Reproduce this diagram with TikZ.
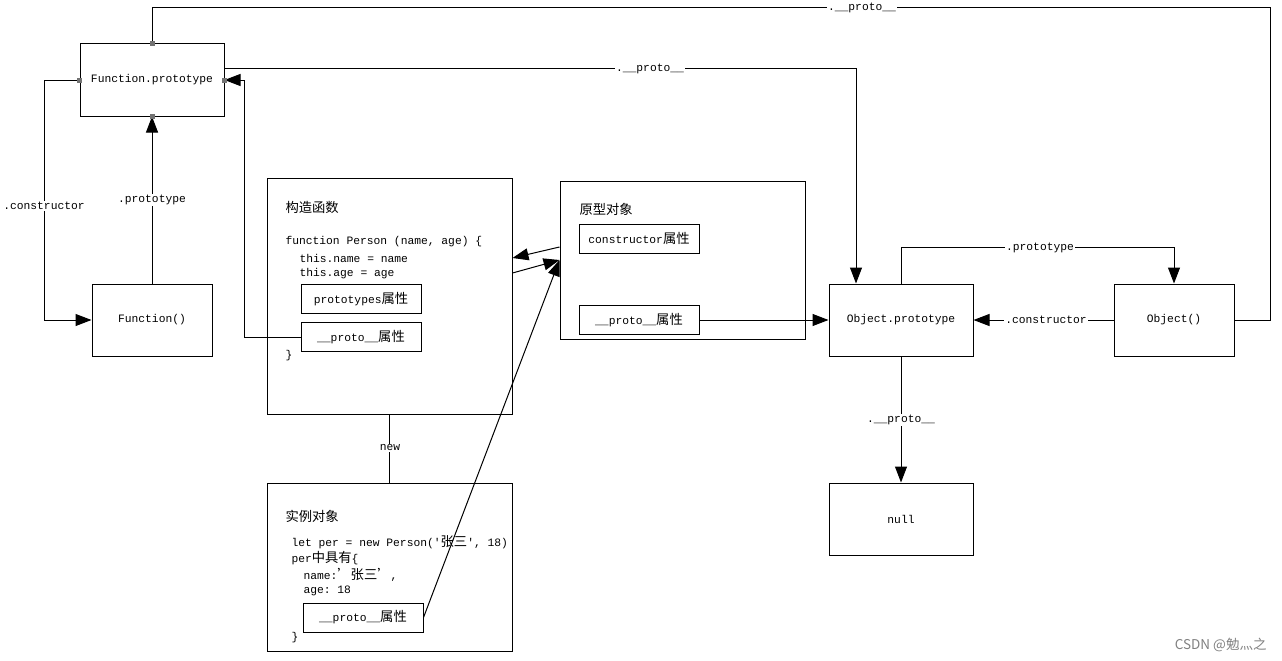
\documentclass[tikz,border=0pt]{standalone}
\usepackage{fontspec}
\setmonofont{Liberation Mono}
\newfontfamily\cjkfont{Noto Sans CJK SC}
\usetikzlibrary{arrows.meta}
\newcommand{\zh}[1]{{\cjkfont\fontsize{13.3}{15}\selectfont #1}}
\newcommand{\codefont}{\ttfamily\fontsize{11.3}{13}\selectfont}
\begin{document}
\begin{tikzpicture}[
	x=1pt, y=-1pt,
	>={Triangle[length=16pt,width=12pt]},
	line width=1pt,
	line join=miter,
	box/.style={draw, minimum width=144pt, minimum height=72pt, font=\codefont},
	attr/.style={draw, minimum width=120pt, minimum height=29pt, inner sep=1pt, font=\codefont},
	txt/.style={anchor=west, inner sep=0pt, font=\codefont},
	lbl/.style={fill=white, inner sep=1pt, font=\codefont},
	dot/.style={fill=gray!90!black, inner sep=0pt, minimum size=5pt}
	]
	\useasboundingbox (0,0) rectangle (1282,661);
	% main boxes
	\node[box] (fp) at (152,80) {Function.prototype};
	\node[box, minimum width=120pt] (fn) at (152,320) {Function()};
	\node[box, minimum width=245pt, minimum height=236pt] (ctor) at (389.5,296) {};
	\node[box, minimum width=245pt, minimum height=158pt] (proto) at (682.5,260) {};
	\node[box, minimum width=245pt, minimum height=168pt] (inst) at (389.5,567) {};
	\node[box] (objp) at (901,320) {Object.prototype};
	\node[box, minimum width=120pt] (obj) at (1174,320) {Object()};
	\node[box] (null) at (901,519) {null};
	% constructor
	\node[txt] (ctort) at (285,207) {\zh{构造函数}};
	\node[txt] (ctorl1) at (285,242) {function Person (name, age) \{};
	\node[txt] (ctorl2) at (299,258) {this.name = name};
	\node[txt] (ctorl3) at (299,274) {this.age = age};
	\node[attr] (ctorpp) at (361,299) {prototypes\zh{属性}};
	\node[attr] (ctordp) at (361,337) {\_\_proto\_\_\zh{属性}};
	\node[txt] (ctorl4) at (285,356) {\}};
	% prototype object
	\node[txt] (protot) at (579,209) {\zh{原型对象}};
	\node[attr] (protoc) at (639,238.5) {constructor\zh{属性}};
	\node[attr] (protodp) at (639,320) {\_\_proto\_\_\zh{属性}};
	% instance
	\node[txt] (instt) at (285,516) {\zh{实例对象}};
	\node[txt] (instl1) at (291,542) {let per = new Person('\zh{张三}', 18)};
	\node[txt] (instl2) at (291,558) {per\zh{中具有}\{};
	\node[txt] (instl3) at (303,575) {name:\zh{’张三’}, };
	\node[txt] (instl4) at (303,591) {age: 18};
	\node[attr] (instdp) at (363,617.5) {\_\_proto\_\_\zh{属性}};
	\node[txt] (instl5) at (291,638) {\}};
	% connectors
	\draw (obj.east) -| (1270,8) -| (fp.north);
	\node[lbl] (lobjproto) at (862,8) {.\_\_proto\_\_};
	\draw[->] ([yshift=11pt]fp.east) -| ([xshift=-45pt]objp.north);
	\node[lbl] (lfpproto) at (650,69) {.\_\_proto\_\_};
	\draw[->] (fn) -- (fp);
	\node[lbl] (lfnproto) at (152,200) {.prototype};
	\draw[->] (fp.west) -- (44,80) |- (fn.west);
	\node[lbl] (lfpctor) at (44,206) {.constructor};
	\draw[->] (ctordp.west) -- (244,337) |- (fp.east);
	\draw[->] ([yshift=13pt]proto.west) -- ([yshift=38pt]ctor.east);
	\draw[->] ([yshift=23pt]ctor.east) -- (proto.west);
	\draw[->] (instdp.east) -- (proto.west);
	\draw[->] (protodp) -- (objp);
	\draw[->] (objp.north) -- ++(0,-36) -| (obj.north);
	\node[lbl] (lobjprototype) at (1040,248) {.prototype};
	\draw[->] (obj) -- (objp);
	\node[lbl] (lobjctor) at (1046,320) {.constructor};
	\draw[->] (objp) -- (null);
	\node[lbl] (lnull) at (901,420) {.\_\_proto\_\_};
	\draw (ctor) -- (inst);
	\node[lbl] (lnew) at (390,448) {new};
	% joints on Function.prototype
	\foreach \a in {north,west,east,south}
		\node[dot] (dot-\a) at (fp.\a) {};
	\node[anchor=east, text=gray, inner sep=0pt, font=\cjkfont\fontsize{13.5}{15}\selectfont] (mark) at (1267,645) {CSDN @勉灬之};
\end{tikzpicture}
\end{document}
